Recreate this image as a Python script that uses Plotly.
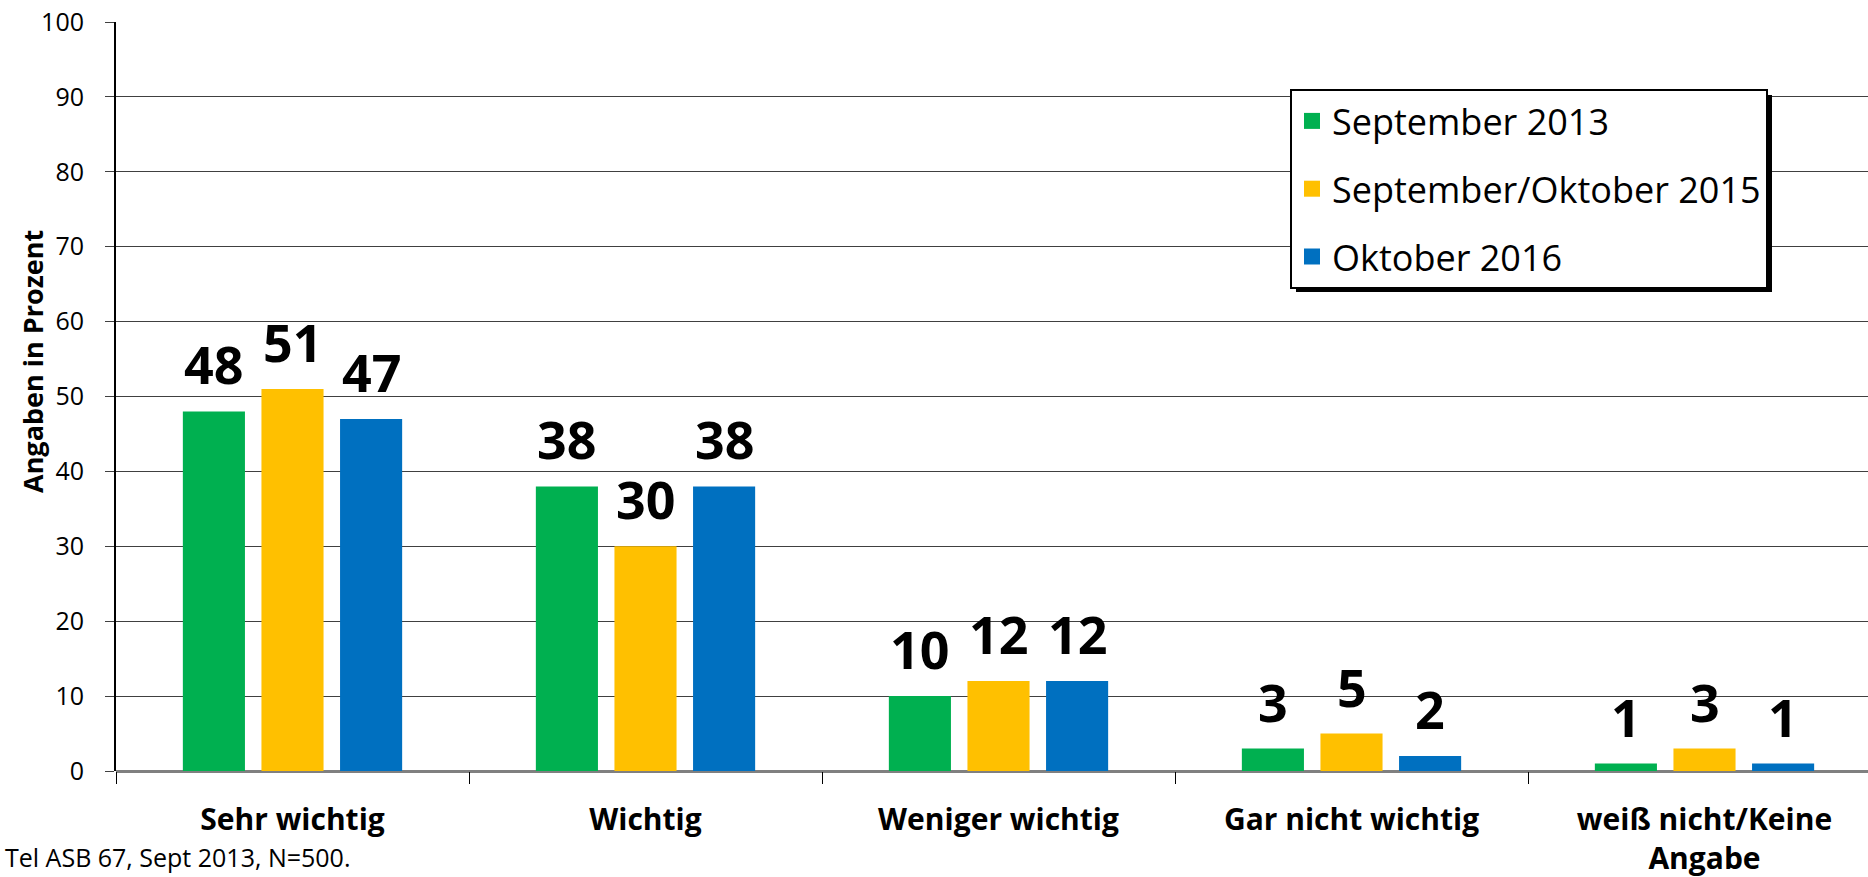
import plotly.graph_objects as go

categories = ["Sehr wichtig", "Wichtig", "Weniger wichtig", "Gar nicht wichtig",
              "weiß nicht/Keine<br>Angabe"]
series_names = ["September 2013", "September/Oktober 2015", "Oktober 2016"]
sep_2013 = [48, 38, 10, 3, 1]
sep_okt_2015 = [51, 30, 12, 5, 3]
okt_2016 = [47, 38, 12, 2, 1]
colors = ["#00B050", "#FFC000", "#0070C0"]

FONT = "Open Sans, Noto Sans, sans-serif"

W, H = 1868, 877
L, R, T, B = 116, 0, 22, 106
plot_w = W - L - R
plot_h = H - T - B
cat_px = 353          # pixel width of one category
bargap = 0.332
slot = cat_px * (1 - bargap) / 3

fig = go.Figure()

all_series = [sep_2013, sep_okt_2015, okt_2016]
for j, (name, vals, col) in enumerate(zip(series_names, all_series, colors)):
    fig.add_trace(
        go.Bar(
            x=categories,
            y=vals,
            name=name,
            marker=dict(color=col, line=dict(width=0)),
            showlegend=False,
        )
    )
    # legend proxy with a bigger square symbol
    fig.add_trace(
        go.Scatter(
            x=[None],
            y=[None],
            mode="markers",
            name=name,
            legendgroup=name,
            marker=dict(symbol="square", size=16, color=col),
        )
    )
    # value labels above bars
    for cat, v in zip(categories, vals):
        fig.add_annotation(
            x=cat, y=v, xref="x", yref="y",
            text=f"<b>{v}</b>",
            showarrow=False,
            xanchor="center", yanchor="bottom",
            xshift=(j - 1) * slot, yshift=10,
            font=dict(size=52, color="black", family=FONT),
        )

fig.add_annotation(
    text="Tel ASB 67, Sept 2013, N=500.",
    xref="paper", yref="paper",
    x=(352 - L) / plot_w, y=-(857 - (H - B)) / plot_h,
    xanchor="right", yanchor="middle",
    showarrow=False,
    font=dict(size=25, color="black", family=FONT),
)

fig.add_annotation(
    text="<b>Angaben in Prozent</b>",
    xref="paper", yref="paper",
    x=(32 - L) / plot_w, y=((H - B) - 362) / plot_h,
    xanchor="center", yanchor="middle",
    textangle=-90,
    showarrow=False,
    font=dict(size=27, color="black", family=FONT),
)

# legend drop shadow
fig.add_shape(
    type="rect", xref="paper", yref="paper",
    x0=(1296 - L) / plot_w, x1=(1772 - L) / plot_w,
    y0=1 - (292 - T) / plot_h, y1=1 - (95 - T) / plot_h,
    fillcolor="black", line=dict(width=0), layer="above",
)

fig.update_layout(
    width=W,
    height=H,
    margin=dict(l=L, r=R, t=T, b=B, autoexpand=False),
    paper_bgcolor="white",
    plot_bgcolor="white",
    font=dict(family=FONT, color="black"),
    barmode="group",
    bargap=bargap,
    bargroupgap=0.21,
    legend=dict(
        x=(1290 - L) / plot_w,
        y=1 - (89 - T) / plot_h,
        xanchor="left",
        yanchor="top",
        bgcolor="white",
        bordercolor="black",
        borderwidth=2,
        font=dict(size=36, family=FONT, color="black"),
        traceorder="grouped",
        tracegroupgap=18,
    ),
    xaxis=dict(
        automargin=False,
        range=[-0.5, -0.5 + plot_w / cat_px],
        tickson="boundaries",
        ticks="outside",
        ticklen=12,
        tickcolor="black",
        tickwidth=1,
        showline=False,
        ticklabelstandoff=28,
        tickfont=dict(size=30, family=FONT, color="black", weight="bold"),
        showgrid=False,
    ),
    yaxis=dict(
        automargin=False,
        range=[0, 100],
        dtick=10,
        ticks="outside",
        ticklen=9,
        tickcolor="#404040",
        showline=True,
        linecolor="black",
        linewidth=2,
        showgrid=True,
        gridcolor="#404040",
        gridwidth=1,
        zeroline=True,
        zerolinecolor="#808080",
        zerolinewidth=3,
        ticklabelstandoff=16,
        tickfont=dict(size=25, family=FONT, color="black"),
    ),
)

# the page body has a default 8px margin; remove it so the figure fills the window
fig.write_html(
    "out.html",
    config={"displayModeBar": False},
    post_script="document.body.style.margin='0px';",
)
